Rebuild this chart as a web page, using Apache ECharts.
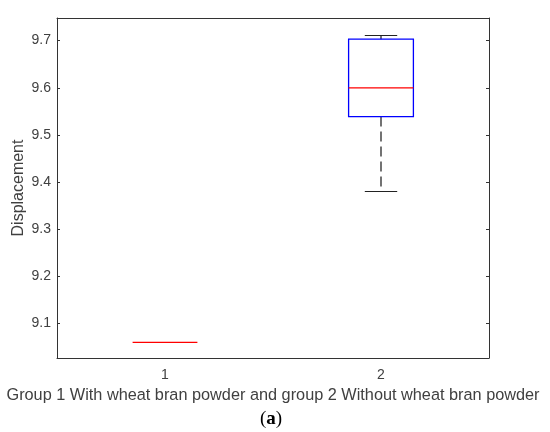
<!DOCTYPE html>
<html>
<head>
<meta charset="utf-8">
<script src="https://cdn.jsdelivr.net/npm/echarts@6/dist/echarts.min.js"></script>
<style>html,body{margin:0;padding:0;background:#fff;}#c{width:550px;height:432px;}</style>
</head>
<body>
<div id="c"></div>
<script>
var categories = ['1', '2'];
var lowWhisker = [9.06, 9.38];
var q1 = [9.06, 9.539];
var median = [9.06, 9.600];
var q3 = [9.06, 9.703];
var highWhisker = [9.06, 9.711];
var yTicks = [9.1, 9.2, 9.3, 9.4, 9.5, 9.6, 9.7];
var yMin = 9.027, yMax = 9.748;

var data = categories.map(function (c, i) {
  return [i, lowWhisker[i], q1[i], median[i], q3[i], highWhisker[i]];
});

var txt = '#404040', ax = '#333333', font = 'Liberation Sans';
var chart = echarts.init(document.getElementById('c'));
chart.setOption({
  animation: false,
  grid: { left: 57, right: 61, top: 18, bottom: 74, containLabel: false, outerBoundsMode: 'none' },
  xAxis: [{
    type: 'category', data: categories, boundaryGap: true,
    axisLine: { lineStyle: { color: ax, width: 1 } },
    axisTick: { inside: true, alignWithLabel: true, length: 4, lineStyle: { color: ax } },
    axisLabel: { color: txt, fontFamily: font, fontSize: 14, margin: 10 },
    name: 'Group 1 With wheat bran powder and group 2 Without wheat bran powder',
    nameLocation: 'middle', nameGap: 30, nameMoveOverlap: false,
    nameTextStyle: { color: txt, fontFamily: font, fontSize: 16.3 },
    splitLine: { show: false }
  }, {
    type: 'category', data: categories, position: 'top', boundaryGap: true,
    axisLine: { lineStyle: { color: ax, width: 1 } },
    axisTick: { inside: true, alignWithLabel: true, length: 4, lineStyle: { color: ax } },
    axisLabel: { show: false }, splitLine: { show: false }
  }],
  yAxis: [{
    type: 'value', min: yMin, max: yMax,
    axisLine: { show: true, lineStyle: { color: ax, width: 1 } },
    axisTick: { show: true, inside: true, length: 3, customValues: yTicks, lineStyle: { color: ax } },
    axisLabel: { color: txt, fontFamily: font, fontSize: 14, margin: 6, customValues: yTicks,
      formatter: function (v) { return v.toFixed(1); } },
    splitLine: { show: false },
    name: 'Displacement', nameLocation: 'middle', nameGap: 30, nameMoveOverlap: false,
    nameTextStyle: { color: txt, fontFamily: font, fontSize: 16 }
  }, {
    type: 'value', min: yMin, max: yMax, position: 'right',
    axisLine: { show: true, lineStyle: { color: ax, width: 1 } },
    axisTick: { show: true, inside: true, length: 3, customValues: yTicks, lineStyle: { color: ax } },
    axisLabel: { show: false }, splitLine: { show: false }
  }],
  series: [{
    type: 'custom',
    xAxisIndex: 0, yAxisIndex: 0,
    data: data,
    renderItem: function (params, api) {
      var x = api.value(0);
      var band = api.size([1, 0])[0];
      var half = band * 0.15;
      var capHalf = half / 2;
      var pLow = api.coord([x, api.value(1)]);
      var pQ1 = api.coord([x, api.value(2)]);
      var pMed = api.coord([x, api.value(3)]);
      var pQ3 = api.coord([x, api.value(4)]);
      var pHigh = api.coord([x, api.value(5)]);
      var cx = pMed[0];
      var children = [];
      var dashStyle = { stroke: '#000', lineWidth: 1.1, lineDash: [10, 5] };
      if (pLow[1] - pQ1[1] > 0.5) {
        children.push({ type: 'line', shape: { x1: cx, y1: pQ1[1], x2: cx, y2: pLow[1] }, style: dashStyle });
        children.push({ type: 'line', shape: { x1: cx - capHalf, y1: pLow[1], x2: cx + capHalf, y2: pLow[1] }, style: { stroke: '#222', lineWidth: 1.1 } });
      }
      if (pQ3[1] - pHigh[1] > 0.5) {
        children.push({ type: 'line', shape: { x1: cx, y1: pHigh[1], x2: cx, y2: pQ3[1] }, style: dashStyle });
        children.push({ type: 'line', shape: { x1: cx - capHalf, y1: pHigh[1], x2: cx + capHalf, y2: pHigh[1] }, style: { stroke: '#222', lineWidth: 1.1 } });
      }
      if (pQ1[1] - pQ3[1] > 0.5) {
        children.push({ type: 'rect', shape: { x: cx - half, y: pQ3[1], width: half * 2, height: pQ1[1] - pQ3[1] }, style: { fill: null, stroke: '#0000ff', lineWidth: 1.3 } });
      }
      children.push({ type: 'line', shape: { x1: cx - half, y1: pMed[1], x2: cx + half, y2: pMed[1] }, style: { stroke: '#ff0000', lineWidth: 1.3 } });
      return { type: 'group', children: children };
    }
  }],
  graphic: [{
    type: 'text', x: 271, y: 410,
    style: {
      text: '({a|a})', fill: '#000', font: '19px "Liberation Serif"', textAlign: 'center',
      rich: { a: { fontWeight: 'bold', fontSize: 19, fontFamily: 'Liberation Serif', fill: '#000' } }
    }
  }]
});
</script>
</body>
</html>
